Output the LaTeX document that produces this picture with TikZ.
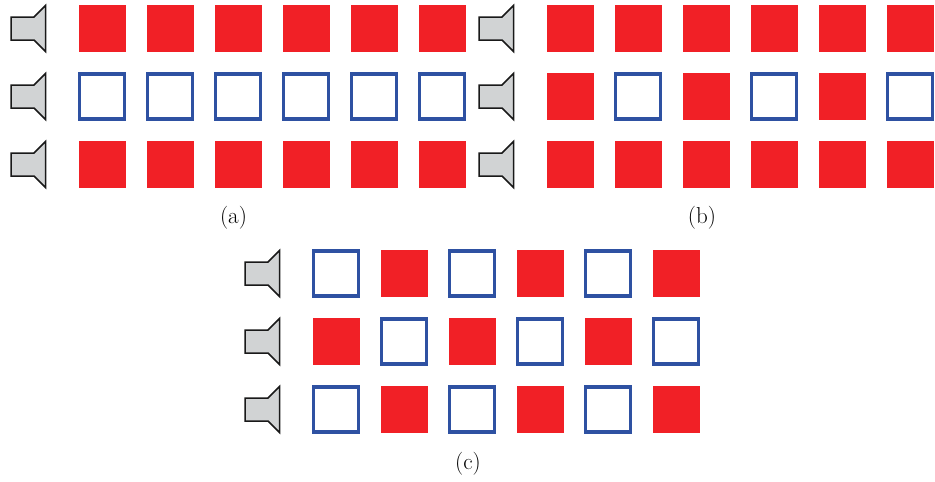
\documentclass[tikz,border=0pt]{standalone}
\definecolor{cellred}{HTML}{F12026}
\definecolor{cellblue}{HTML}{2E51A2}
\definecolor{hornfill}{HTML}{D1D3D4}
\tikzset{
  full/.style={fill=cellred,minimum size=47pt,inner sep=0pt,outer sep=0pt},
  empty/.style={draw=cellblue,fill=white,line width=3.3pt,minimum size=45pt,inner sep=0pt,outer sep=0pt},
  caption/.style={font=\fontsize{23}{27}\selectfont,inner sep=0pt},
  speaker/.pic={
    \draw[fill=hornfill,line width=1.5pt,draw=black!90]
      (-17,-11.5) -- (6,-11.5) -- (17.5,-23) -- (17.5,23) -- (6,11.5) -- (-17,11.5) -- cycle;
  }
}
\begin{document}
\begin{tikzpicture}[x=1pt,y=-1pt]
      \useasboundingbox (0,0) rectangle (935,482);
      \pic (sa1) at (28,28.5) {speaker};
      \pic (sa2) at (28,96.5) {speaker};
      \pic (sa3) at (28,164.5) {speaker};
      \pic (sb1) at (496,28.5) {speaker};
      \pic (sb2) at (496,96.5) {speaker};
      \pic (sb3) at (496,164.5) {speaker};
      \pic (sc1) at (262,273.5) {speaker};
      \pic (sc2) at (262,341.5) {speaker};
      \pic (sc3) at (262,409.5) {speaker};
      \path
        (102,28.5) node[full] (a11){}
        (170,28.5) node[full] (a12){}
        (238,28.5) node[full] (a13){}
        (306,28.5) node[full] (a14){}
        (374,28.5) node[full] (a15){}
        (442,28.5) node[full] (a16){}
        (102,96.5) node[empty] (a21){}
        (170,96.5) node[empty] (a22){}
        (238,96.5) node[empty] (a23){}
        (306,96.5) node[empty] (a24){}
        (374,96.5) node[empty] (a25){}
        (442,96.5) node[empty] (a26){}
        (102,164.5) node[full] (a31){}
        (170,164.5) node[full] (a32){}
        (238,164.5) node[full] (a33){}
        (306,164.5) node[full] (a34){}
        (374,164.5) node[full] (a35){}
        (442,164.5) node[full] (a36){};
      \path
        (570,28.5) node[full] (b11){}
        (638,28.5) node[full] (b12){}
        (706,28.5) node[full] (b13){}
        (774,28.5) node[full] (b14){}
        (842,28.5) node[full] (b15){}
        (910,28.5) node[full] (b16){}
        (570,96.5) node[full] (b21){}
        (638,96.5) node[empty] (b22){}
        (706,96.5) node[full] (b23){}
        (774,96.5) node[empty] (b24){}
        (842,96.5) node[full] (b25){}
        (910,96.5) node[empty] (b26){}
        (570,164.5) node[full] (b31){}
        (638,164.5) node[full] (b32){}
        (706,164.5) node[full] (b33){}
        (774,164.5) node[full] (b34){}
        (842,164.5) node[full] (b35){}
        (910,164.5) node[full] (b36){};
      \path
        (336,273.5) node[empty] (c11){}
        (404,273.5) node[full] (c12){}
        (472,273.5) node[empty] (c13){}
        (540,273.5) node[full] (c14){}
        (608,273.5) node[empty] (c15){}
        (676,273.5) node[full] (c16){}
        (336,341.5) node[full] (c21){}
        (404,341.5) node[empty] (c22){}
        (472,341.5) node[full] (c23){}
        (540,341.5) node[empty] (c24){}
        (608,341.5) node[full] (c25){}
        (676,341.5) node[empty] (c26){}
        (336,409.5) node[empty] (c31){}
        (404,409.5) node[full] (c32){}
        (472,409.5) node[empty] (c33){}
        (540,409.5) node[full] (c34){}
        (608,409.5) node[empty] (c35){}
        (676,409.5) node[full] (c36){};
      \node[caption] (capa) at (233.5,218) {(a)};
      \node[caption] (capb) at (702,218) {(b)};
      \node[caption] (capc) at (468,464) {(c)};
    \end{tikzpicture}
\end{document}
